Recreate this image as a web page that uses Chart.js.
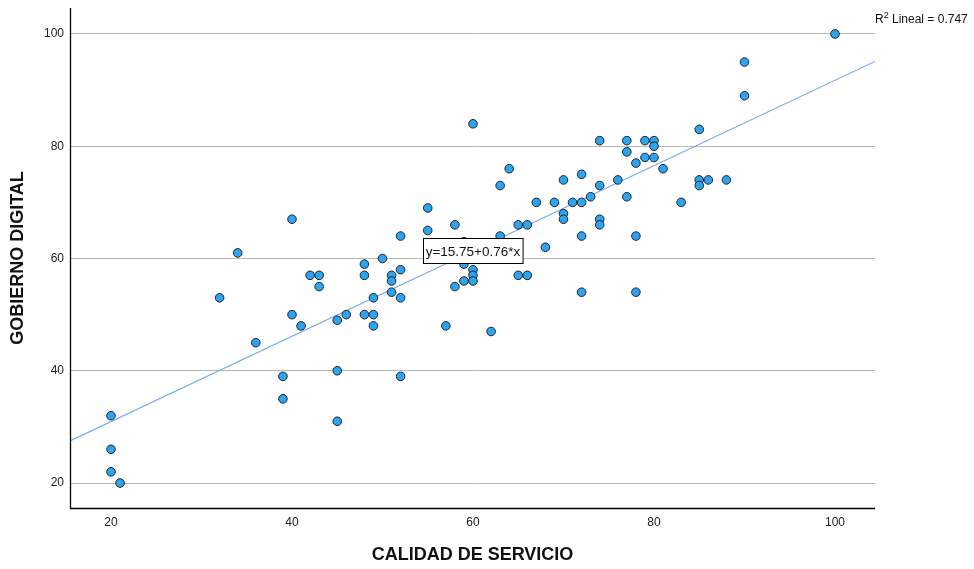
<!DOCTYPE html>
<html>
<head>
<meta charset="utf-8">
<script src="https://cdn.jsdelivr.net/npm/chart.js@4/dist/chart.umd.min.js"></script>
<style>
  html, body { margin: 0; padding: 0; background: #fff; }
  #wrap { width: 974px; height: 569px; position: relative; }
</style>
</head>
<body>
<div id="wrap"><canvas id="c" width="974" height="569"></canvas></div>
<script>
// ---- data ----
const calidadServicio = [20,20,20,21,32,34,36,39,39,40,40,41,42,43,43,45,45,45,46,48,48,48,49,49,49,50,
  51,51,51,52,52,52,52,55,55,57,58,58,59,59,59,60,60,60,60,62,63,63,64,65,65,66,66,
  67,68,69,70,70,70,71,72,72,72,72,73,74,74,74,74,76,77,77,77,78,78,78,
  79,79,80,80,80,81,83,85,85,85,86,88,90,90,100];
const gobiernoDigital = [32,26,22,20,53,61,45,39,35,67,50,48,57,57,55,49,40,31,50,59,57,50,53,50,48,60,
  57,56,54,64,58,53,39,69,65,48,66,55,63,59,56,84,58,57,56,47,73,64,76,66,57,66,57,
  70,62,70,74,68,67,70,75,70,64,54,71,81,73,67,66,74,81,79,71,77,64,54,
  81,78,81,80,78,76,70,83,74,73,74,74,95,89,100];
const xTickValues = [20, 40, 60, 80, 100];
const yTickValues = [20, 40, 60, 80, 100];
const fitIntercept = 15.75;
const fitSlope = 0.76;
const rSquared = "0.747";
const xTitle = "CALIDAD DE SERVICIO";
const yTitle = "GOBIERNO DIGITAL";
const fitLabel = "y=15.75+0.76*x";

const X_MIN = 15.47, X_MAX = 104.42, Y_MIN = 15.55, Y_MAX = 104.63;

const points = calidadServicio.map((x, i) => ({ x: x, y: gobiernoDigital[i] }));
const fitLine = [X_MIN, X_MAX].map(x => ({ x: x, y: fitIntercept + fitSlope * x }));

const FONT = "'Liberation Sans', Arial, sans-serif";

const overlay = {
  id: 'overlay',
  afterDatasetsDraw(chart) {
    const ctx = chart.ctx;
    const xs = chart.scales.x, ys = chart.scales.y;
    // fit equation label
    const lx = 60;
    const cx = xs.getPixelForValue(lx);
    const cy = ys.getPixelForValue(fitIntercept + fitSlope * lx);
    ctx.save();
    ctx.font = "13.5px " + FONT;
    const w = ctx.measureText(fitLabel).width + 5;
    const h = 25;
    const bx = Math.round(cx - w / 2) + 0.5, by = Math.round(cy - h / 2) + 0.5;
    ctx.fillStyle = '#fff';
    ctx.fillRect(bx, by, w, h);
    ctx.strokeStyle = '#000';
    ctx.lineWidth = 1;
    ctx.strokeRect(bx, by, w, h);
    ctx.fillStyle = '#111';
    ctx.textAlign = 'center';
    ctx.textBaseline = 'middle';
    ctx.fillText(fitLabel, cx, cy + 1);
    ctx.restore();
  },
  afterDraw(chart) {
    const ctx = chart.ctx;
    const a = chart.chartArea;
    ctx.save();
    // axis lines
    ctx.strokeStyle = '#000';
    ctx.lineWidth = 1.3;
    ctx.beginPath();
    ctx.moveTo(a.left + 0.5, a.top);
    ctx.lineTo(a.left + 0.5, a.bottom + 0.5);
    ctx.lineTo(a.right, a.bottom + 0.5);
    ctx.stroke();
    // axis titles
    ctx.fillStyle = '#111';
    ctx.font = "bold 18px " + FONT;
    ctx.textAlign = 'center';
    ctx.textBaseline = 'middle';
    ctx.fillText(xTitle, (a.left + a.right) / 2, 555);
    ctx.save();
    ctx.translate(18, (a.top + a.bottom) / 2);
    ctx.rotate(-Math.PI / 2);
    ctx.fillText(yTitle, 0, 0);
    ctx.restore();
    // R2 label
    ctx.textAlign = 'left';
    ctx.textBaseline = 'alphabetic';
    ctx.font = "12px " + FONT;
    let x0 = 875, base = 23;
    ctx.fillText("R", x0, base);
    x0 += ctx.measureText("R").width;
    ctx.font = "9px " + FONT;
    ctx.fillText("2", x0, base - 5);
    x0 += ctx.measureText("2").width;
    ctx.font = "12px " + FONT;
    ctx.fillText(" Lineal = " + rSquared, x0, base);
    ctx.restore();
  }
};

function noPad(s) { s.paddingTop = 0; s.paddingBottom = 0; s.paddingLeft = 0; s.paddingRight = 0; }

new Chart(document.getElementById('c'), {
  type: 'scatter',
  data: {
    datasets: [
      {
        type: 'line',
        data: fitLine,
        borderColor: '#74aaf0',
        borderWidth: 1.2,
        pointRadius: 0,
        fill: false,
        order: 2
      },
      {
        data: points,
        backgroundColor: '#2ba4f2',
        borderColor: '#222',
        borderWidth: 1,
        pointRadius: 4.3,
        order: 1
      }
    ]
  },
  options: {
    responsive: false,
    animation: false,
    events: [],
    layout: { padding: { left: 0, top: 8, right: 99, bottom: 0 } },
    plugins: { legend: { display: false }, tooltip: { enabled: false } },
    scales: {
      x: {
        type: 'linear',
        min: X_MIN, max: X_MAX,
        afterBuildTicks: s => { s.ticks = xTickValues.map(v => ({ value: v })); },
        afterFit: s => { s.height = 61; noPad(s); },
        grid: { display: false, drawTicks: false },
        border: { display: false },
        ticks: { padding: 7, color: '#222', font: { family: FONT, size: 12 }, maxRotation: 0,
                 callback: v => String(v) }
      },
      y: {
        type: 'linear',
        min: Y_MIN, max: Y_MAX,
        afterBuildTicks: s => { s.ticks = yTickValues.map(v => ({ value: v })); },
        afterFit: s => { s.width = 70; noPad(s); },
        grid: { color: '#b8b8b8', lineWidth: 1, drawTicks: false },
        border: { display: false },
        ticks: { padding: 6, color: '#222', font: { family: FONT, size: 12 },
                 callback: v => String(v) }
      }
    }
  },
  plugins: [overlay]
});
</script>
</body>
</html>
